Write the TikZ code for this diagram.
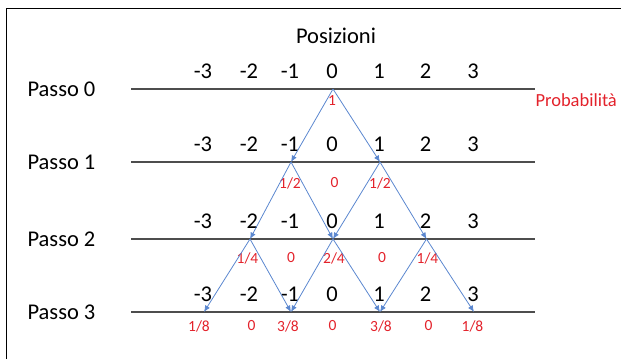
\documentclass[tikz,border=0pt]{standalone}
\usepackage{fontspec}
\setmainfont{Carlito}
\usetikzlibrary{arrows.meta}
\definecolor{walk}{HTML}{5B87CF}
\definecolor{prob}{HTML}{E3222B}
\definecolor{axisgr}{HTML}{4D4D4D}

\begin{document}
\begin{tikzpicture}[x=1pt,y=-1pt,
    big/.style={font=\fontsize{22.5}{26}\selectfont},
    frac/.style={font=\fontsize{15.5}{17}\selectfont,prob},
    move/.style={walk,line width=0.8pt,-{Latex[length=6.5pt,width=5.5pt]}}]
  \useasboundingbox (0,0) rectangle (621,359);
  \draw[line width=1.1pt] (6.5,359) -- (6.5,8.5) -- (621,8.5);
  \node[big] (title) at (336,36) {Posizioni};
  % steps, axes and positions
  \foreach \s/\y in {0/89,1/162,2/239,3/312} {
    \node[big,anchor=west] (passo\s) at (24,\y) {Passo \s};
    \coordinate (left\s) at (131,\y);
    \coordinate (right\s) at (535,\y);
    \draw[axisgr,line width=1.2pt] (left\s) -- (right\s);
    \foreach \c/\p/\x in {1/-3/204,2/-2/250,3/-1/291,4/0/333,5/1/380,6/2/426.5,7/3/474} {
      \coordinate (s\s c\c) at (\x,\y);
      \node[big] (pos\s c\c) at (\x-1,\y-18) {\p};
    }
  }
  \node[frac,anchor=west,font=\fontsize{18.5}{20}\selectfont] (prob) at (532,100) {Probabilità};
  % probabilities
  \node[frac] (q0c4) at (332,101) {1};
  \foreach \c/\x/\t in {3/290/{1/2},4/334.5/{0},5/380/{1/2}}
    \node[frac] (q1c\c) at (\x,183) {\t};
  \foreach \c/\x/\t in {2/247.5/{1/4},3/291/{0},4/334/{2/4},5/382/{0},6/427.5/{1/4}}
    \node[frac] (q2c\c) at (\x,258) {\t};
  \foreach \c/\x/\t in {1/199/{1/8},2/251.5/{0},3/288/{3/8},4/332.5/{0},5/381/{3/8},6/428.5/{0},7/472.5/{1/8}}
    \node[frac] (q3c\c) at (\x,326) {\t};
  % moves
  \draw[move] (s0c4) -- (s1c3);
  \draw[move] (s0c4) -- (s1c5);
  \foreach \a/\b in {3/2,3/4,5/4,5/6}
    \draw[move] (s1c\a) -- (s2c\b);
  \foreach \a/\b in {2/1,2/3,4/3,4/5,6/5,6/7}
    \draw[move] (s2c\a) -- (s3c\b);
\end{tikzpicture}
\end{document}
